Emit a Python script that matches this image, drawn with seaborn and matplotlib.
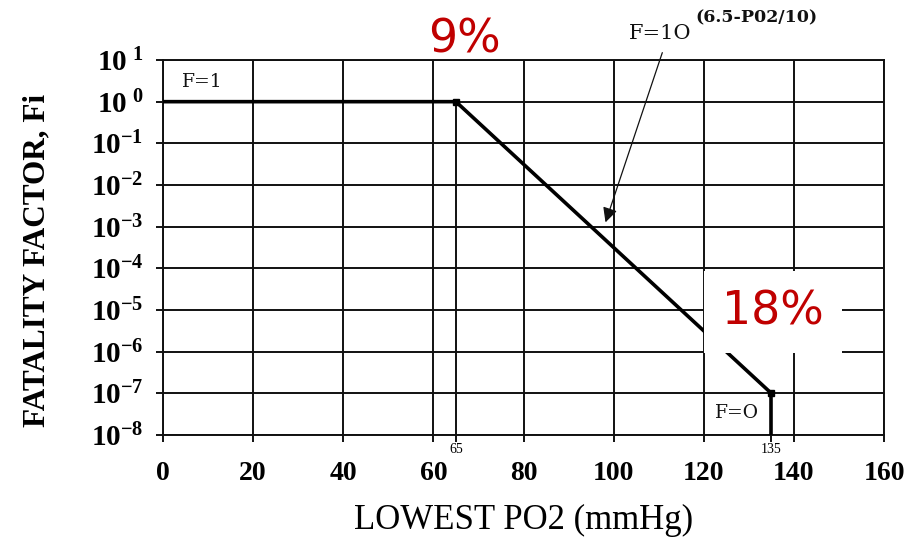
import matplotlib
matplotlib.use("Agg")
import matplotlib.pyplot as plt
import seaborn as sns
import pandas as pd
import numpy as np

# ---- data ----
po2 = [0, 65, 135]
fatality = [1.0, 1.0, 1e-7]
cutoff_x = [135, 135]
cutoff_y = [1e-7, 1e-8]
knee_x = [65, 65]
knee_y = [1.0, 1e-8]
x_ticks = [0, 20, 40, 60, 80, 100, 120, 140, 160]
x_minor_ticks = [65, 135]
x_minor_labels = ["65", "135"]
y_ticks = [1e1, 1e0, 1e-1, 1e-2, 1e-3, 1e-4, 1e-5, 1e-6, 1e-7, 1e-8]
y_labels = [r"$\mathbf{10^{\ 1}}$", r"$\mathbf{10^{\ 0}}$", r"$\mathbf{10^{-1}}$", r"$\mathbf{10^{-2}}$",
            r"$\mathbf{10^{-3}}$", r"$\mathbf{10^{-4}}$", r"$\mathbf{10^{-5}}$", r"$\mathbf{10^{-6}}$",
            r"$\mathbf{10^{-7}}$", r"$\mathbf{10^{-8}}$"]

sns.set_theme(style="white")
plt.rcParams["font.family"] = ["Liberation Serif", "DejaVu Serif"]
plt.rcParams["mathtext.fontset"] = "custom"
plt.rcParams["mathtext.rm"] = "Liberation Serif:bold"
plt.rcParams["mathtext.bf"] = "Liberation Serif:bold"
plt.rcParams["mathtext.it"] = "Liberation Serif:bold"

INK = "#111111"
fig = plt.figure(figsize=(9.23, 5.42), dpi=100)
ax = fig.add_axes([163/923, 1-435/542, (884-163)/923, (435-60)/542])

df = pd.DataFrame({"po2": po2, "fi": fatality})
sns.lineplot(data=df, x="po2", y="fi", ax=ax, color="black", lw=2.6, zorder=5)
ax.plot(cutoff_x, cutoff_y, color="black", lw=2.6, zorder=5)
ax.plot(knee_x, knee_y, color=INK, lw=1.4, zorder=3)
ax.plot([po2[1], po2[2]], [fatality[1], fatality[2]], ls="none", marker="s",
        ms=5, color="black", zorder=6)

ax.set_yscale("log")
ax.set_xlim(0, 160)
ax.set_ylim(1e-8, 1e1)
ax.set_xticks(x_ticks)
ax.set_xticklabels([str(v) for v in x_ticks], fontsize=20, fontweight="bold", color="black")
ax.set_xticks(x_minor_ticks, labels=x_minor_labels, minor=True)
ax.set_yticks(y_ticks, labels=y_labels)
ax.yaxis.set_minor_locator(matplotlib.ticker.NullLocator())
ax.tick_params(axis="y", which="major", labelsize=21, labelcolor="black", length=5, width=1.4, color=INK, pad=9, direction="out", left=True)
ax.tick_params(axis="x", which="major", length=5, width=1.4, color=INK, pad=14, direction="out", bottom=True)
ax.tick_params(axis="x", which="minor", length=5, width=1.4, color=INK, labelsize=10, labelcolor="black", pad=1, direction="out", bottom=True)
ax.grid(True, which="major", color=INK, lw=1.4)
for s in ax.spines.values():
    s.set_color(INK)
    s.set_linewidth(1.4)

ax.set_xlabel("LOWEST PO2 (mmHg)", fontsize=25, color="black")
ax.set_ylabel("FATALITY FACTOR, Fi", fontsize=22.5, fontweight="bold", color="black")
ax.yaxis.set_label_coords(-0.155, 0.465)
ax.xaxis.set_label_coords(0.5, -0.185)

ax.text(8.7, 10**0.47, "F=1", fontsize=13.5, ha="center", va="center", color=INK, family="DejaVu Serif")
ax.text(127.4, 10**-7.47, "F=O", fontsize=13.5, ha="center", va="center", color=INK, family="DejaVu Serif")
ax.text(110.3, 10**1.648, "F=1O", fontsize=15, ha="center", va="center", color=INK,
        family="DejaVu Serif", clip_on=False)
ax.text(131.8, 10**2.0, "(6.5-P02/10)", fontsize=12.5, fontweight="bold", ha="center", va="center",
        color=INK, family="DejaVu Serif", clip_on=False)
ax.annotate("", xy=(98, 10**-2.96), xytext=(111, 10**1.24),
            arrowprops=dict(arrowstyle="-|>", lw=0.9, color=INK, mutation_scale=22),
            annotation_clip=False)

ax.text(67.0, 10**1.48, "9%", fontsize=33, color="#c00000", ha="center", va="center",
        family="DejaVu Sans", clip_on=False)
ax.text(135.4, 10**-5.05, "18%", fontsize=33, color="#c00000", ha="center", va="center",
        family="DejaVu Sans", zorder=10,
        bbox=dict(boxstyle="square,pad=0.4", facecolor="white", edgecolor="none"))

fig.savefig("out.png", dpi=100)
